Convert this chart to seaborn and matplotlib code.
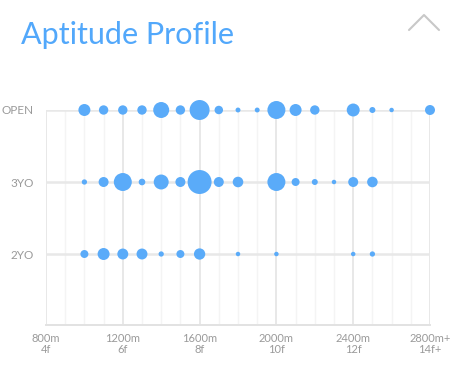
"""Aptitude profile bubble chart (distance x age group)."""

import matplotlib
matplotlib.use("Agg")
import matplotlib.pyplot as plt
from matplotlib.lines import Line2D
import pandas as pd
import seaborn as sns

# --- data -----------------------------------------------------------------
groups = ["2YO", "3YO", "OPEN"]

open_dist = [1000, 1100, 1200, 1300, 1400, 1500, 1600, 1700, 1800, 1900,
             2000, 2100, 2200, 2400, 2500, 2600, 2800]
open_runs = [36, 22, 22, 22, 64, 22, 100, 18, 6, 6, 81, 36, 22, 42, 9, 5, 25]

yo3_dist = [1000, 1100, 1200, 1300, 1400, 1500, 1600, 1700, 1800,
            2000, 2100, 2200, 2300, 2400, 2500]
yo3_runs = [7, 25, 81, 11, 56, 25, 144, 25, 28, 81, 16, 9, 5, 25, 28]

yo2_dist = [1000, 1100, 1200, 1300, 1400, 1500, 1600, 1800, 2000, 2400, 2500]
yo2_runs = [16, 36, 30, 30, 7, 16, 32, 5, 5, 5, 7]

tick_dist = [800, 1200, 1600, 2000, 2400, 2800]
tick_labels = ["800m\n4f", "1200m\n6f", "1600m\n8f", "2000m\n10f",
               "2400m\n12f", "2800m+\n14f+"]

frames = []
for grp, dist, runs in [("2YO", yo2_dist, yo2_runs),
                        ("3YO", yo3_dist, yo3_runs),
                        ("OPEN", open_dist, open_runs)]:
    frames.append(pd.DataFrame({"group": grp, "distance": dist, "runs": runs}))
df = pd.concat(frames, ignore_index=True)
df["row"] = df["group"].map({g: i for i, g in enumerate(groups)})

# --- plot -----------------------------------------------------------------
sns.set_theme(style="white")
plt.rcParams["font.family"] = ["Lato", "DejaVu Sans"]

fig = plt.figure(figsize=(4.61, 3.86), dpi=100)
ax = fig.add_axes([46 / 461, 1 - 325 / 386, 384 / 461, 215 / 386])

blue = "#5aabf9"
max_runs = max(df["runs"])
sns.scatterplot(data=df, x="distance", y="row", size="runs",
                sizes=(0, 298), size_norm=(0, max_runs), color=blue,
                edgecolor="none", legend=False, ax=ax, clip_on=False, zorder=3)

# grid
for d in range(800, 2801, 100):
    major = d % 400 == 0
    ax.axvline(d, color="#e6e6e6" if major else "#f4f4f4",
               lw=1.3 if major else 1.0, zorder=0)
for r in range(len(groups)):
    ax.axhline(r, color="#e8e8e8", lw=1.8, zorder=1)

ax.set_xlim(800, 2800)
ax.set_ylim(-0.986, 2.0)
ax.set_xticks(tick_dist)
ax.set_xticklabels(tick_labels, fontsize=8, color="#9a9a9a", linespacing=1.0)
ax.set_yticks(range(len(groups)))
ax.set_yticklabels(groups, fontsize=8.5, color="#9a9a9a")
ax.tick_params(axis="both", length=0)
ax.tick_params(axis="y", pad=9)
ax.tick_params(axis="x", pad=6)
ax.set_xlabel("")
ax.set_ylabel("")
for side in ["top", "right", "left"]:
    ax.spines[side].set_visible(False)
ax.spines["bottom"].set_color("#e2e2e2")
ax.spines["bottom"].set_linewidth(1.4)

fig.text(21 / 461, 1 - 44 / 386, "Aptitude Profile", fontsize=22,
         color="#52a8fb", ha="left", va="baseline")

# collapse chevron
fig.add_artist(Line2D([409 / 461, 424 / 461, 439 / 461],
                      [1 - 30 / 386, 1 - 15 / 386, 1 - 30 / 386],
                      color="#c8c8c8", lw=1.5))

fig.savefig("out.png", dpi=100)
